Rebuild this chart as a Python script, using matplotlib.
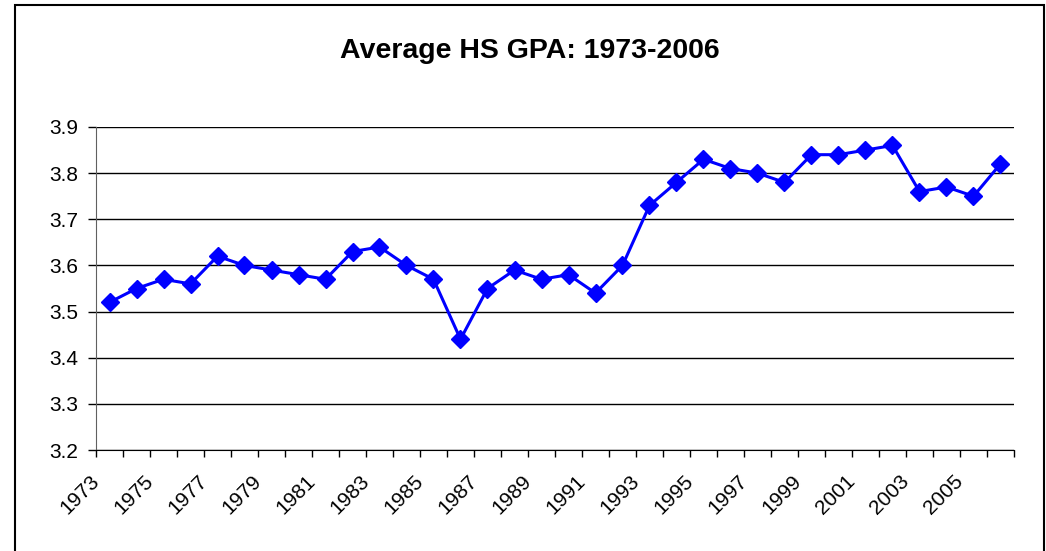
import numpy as np
import matplotlib
matplotlib.use("Agg")
import matplotlib.pyplot as plt
import matplotlib.transforms as mtransforms
from matplotlib.patches import Rectangle

plt.rcParams['font.family'] = ['Liberation Sans', 'DejaVu Sans']

# Average high-school GPA per year
years = list(range(1973, 2007))
gpa = [3.52, 3.55, 3.57, 3.56, 3.62, 3.60, 3.59, 3.58, 3.57, 3.63,
       3.64, 3.60, 3.57, 3.44, 3.55, 3.59, 3.57, 3.58, 3.54, 3.60,
       3.73, 3.78, 3.83, 3.81, 3.80, 3.78, 3.84, 3.84, 3.85, 3.86,
       3.76, 3.77, 3.75, 3.82]
y_ticks = [3.2, 3.3, 3.4, 3.5, 3.6, 3.7, 3.8, 3.9]
title = "Average HS GPA: 1973-2006"

W, H = 1046, 551
fig = plt.figure(figsize=(W / 100, H / 100), dpi=100)

# chart border (bottom edge is cut off in the original)
fig.patches.append(Rectangle((15 / W, -0.05), (1044 - 15) / W, 1.05 - 5 / H,
                             transform=fig.transFigure, fill=False,
                             edgecolor='black', linewidth=1.5))

ax = fig.add_axes([96 / W, 1 - 450 / H, (1014 - 96) / W, (450 - 127) / H])

x = np.arange(len(years))
ax.plot(x, gpa, color='#0000FF', linewidth=2.2, marker='D',
        markersize=9, zorder=3)

ax.set_xlim(-0.5, len(years) - 0.5)
ax.set_ylim(3.2, 3.9)

# y axis + gridlines
ax.set_yticks(y_ticks)
ax.set_yticklabels([f"{v:.1f}" for v in y_ticks], fontsize=15)
ax.yaxis.grid(True, color='black', linewidth=1)
ax.tick_params(axis='y', direction='out', length=6, width=1, pad=7)

# x axis: labels on every other year, ticks between categories
ax.set_xticks(x[::2])
ax.set_xticklabels([str(y) for y in years[::2]], rotation=45, ha='right',
                   va='center', rotation_mode='anchor', fontsize=15)
ax.set_xticks(np.arange(-0.5, len(years)), minor=True)
ax.tick_params(axis='x', which='major', length=0, pad=20)
ax.tick_params(axis='x', which='minor', direction='out', length=5, width=1)
shift = mtransforms.ScaledTranslation(-0.13, 0, fig.dpi_scale_trans)
for lbl in ax.get_xticklabels():
    lbl.set_transform(lbl.get_transform() + shift)

for side in ['top', 'right']:
    ax.spines[side].set_visible(False)
ax.spines['left'].set_color('#606060')
ax.spines['bottom'].set_color('black')

fig.text(530 / W, 1 - 58 / H, title, ha='center', va='baseline',
         fontsize=20.5, fontweight='bold')

fig.savefig('out.png', dpi=100)
